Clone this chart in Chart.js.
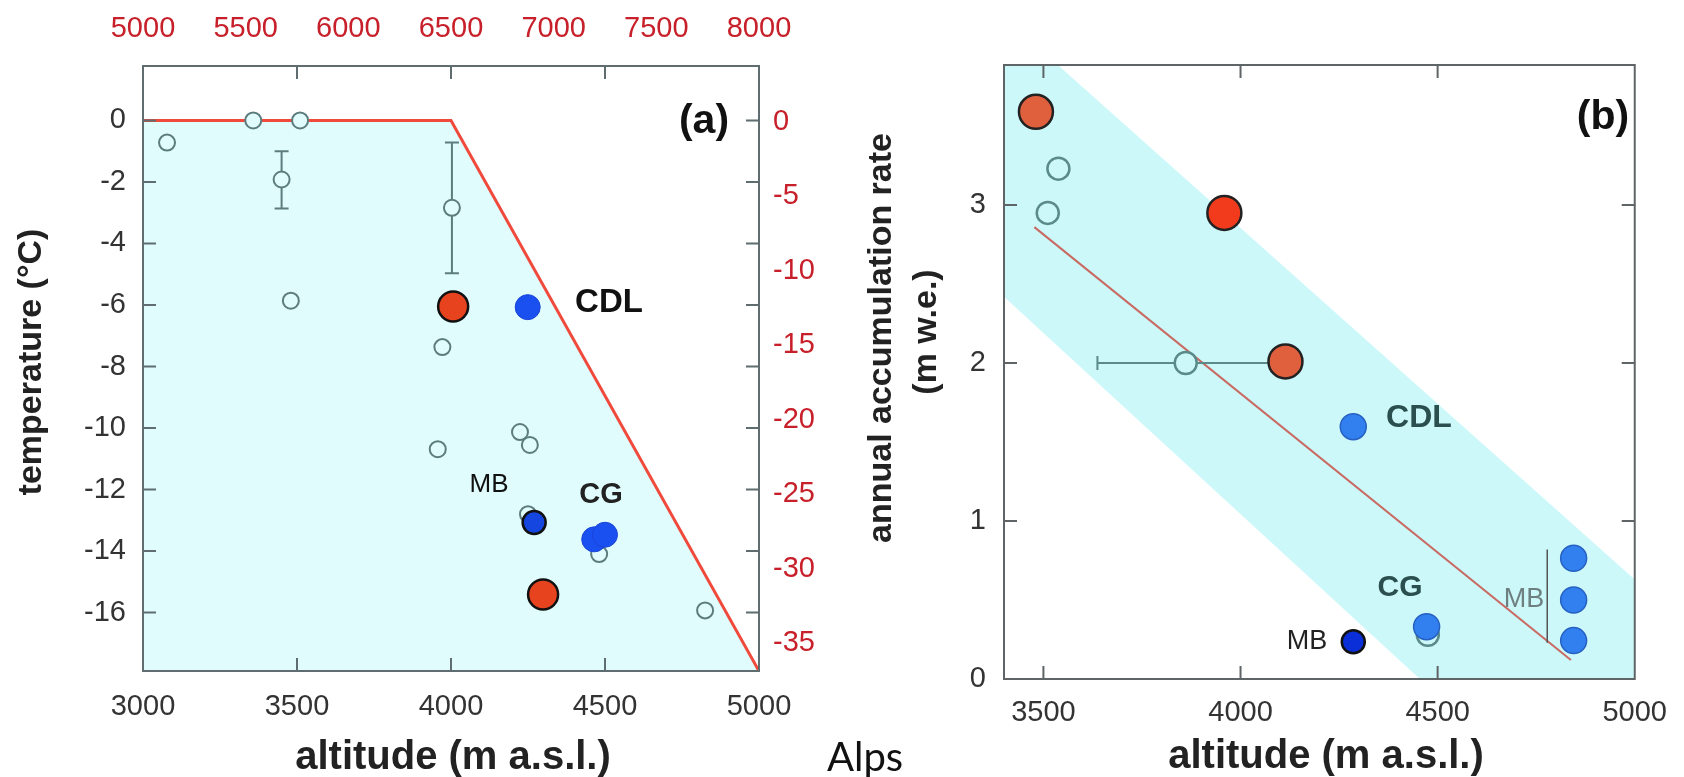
<!DOCTYPE html>
<html>
<head>
<meta charset="utf-8">
<script src="https://cdn.jsdelivr.net/npm/chart.js@4.4.0/dist/chart.umd.min.js"></script>
<style>
  body { margin: 0; background: #fff; width: 1684px; height: 777px; position: relative; overflow: hidden; }
  canvas { position: absolute; top: 0; }
  #chartA { left: 0; }
  #chartB { left: 850px; }
  #alps { position: absolute; left: 827px; top: 736px; font-family: Lato, 'Open Sans', sans-serif; font-size: 40px; line-height: 1; color: #111; }
</style>
</head>
<body>
<canvas id="chartA" width="850" height="777"></canvas>
<canvas id="chartB" width="834" height="777"></canvas>
<div id="alps">Alps</div>
<script>
// ---- panel (a): temperature vs altitude ----
const altTicksA = [3000, 3500, 4000, 4500, 5000];
const tempTicks = [-16, -14, -12, -10, -8, -6, -4, -2, 0];
const topAltTicks = [5000, 5500, 6000, 6500, 7000, 7500, 8000];
const rightTicks = [-35, -30, -25, -20, -15, -10, -5, 0];

const limitAlt = [3000, 4000, 5000];
const limitTemp = [0, 0, -17.9];

const openAltA = [3078, 3358, 3510, 3450, 3480, 4003, 3972, 4224, 4256, 3957, 4250, 4481, 4825];
const openTempA = [-0.72, 0, 0, -1.92, -5.86, -2.84, -7.37, -10.13, -10.55, -10.69, -12.8, -14.1, -15.93];
const errAltA = [3450, 4003];
const errLowA = [-2.86, -4.97];
const errHighA = [-1.0, -0.72];

const redAltA = [4007, 4299];
const redTempA = [-6.05, -15.41];
const blueAltA = [4249, 4465, 4500];
const blueTempA = [-6.07, -13.62, -13.47];
const mbAltA = [4270];
const mbTempA = [-13.07];

// ---- panel (b): accumulation vs altitude ----
const altTicksB = [3500, 4000, 4500, 5000];
const accTicks = [0, 1, 2, 3];

const bandAlt = [3400, 5000];
const bandHigh = [4.19, 0.63];
const bandLow = [2.42, -1.25];
const fitAlt = [3477, 4838];
const fitAcc = [2.86, 0.12];

const openAltB = [3538, 3511, 3861, 4475];
const openAccB = [3.23, 2.95, 2.0, 0.28];
const errAccB = [2.0];
const errLeftB = [3637];
const errRightB = [4085];

const redAltB = [3481, 4114];
const redAccB = [3.59, 2.01];
const brightAltB = [3959];
const brightAccB = [2.95];
const blueAltB = [4286, 4472, 4845, 4845, 4845];
const blueAccB = [1.597, 0.331, 0.764, 0.5, 0.243];
const mbAltB = [4286];
const mbAccB = [0.236];
const bracketAlt = [4778, 4778];
const bracketAcc = [0.82, 0.23];

const FONT = "'Liberation Sans', Arial, sans-serif";
const RED_TXT = '#c8202a';
Chart.defaults.font.family = FONT;

const pts = (xs, ys) => xs.map((x, i) => ({ x: x, y: ys[i] }));
const fixedTicks = list => scale => { scale.ticks = list.map(v => ({ value: v })); };
const plain = v => String(v);

// box + inward tick marks
const framePlugin = {
  id: 'frame',
  afterDatasetsDraw(chart, args, opts) {
    const { ctx, chartArea: a, scales } = chart;
    const x = scales.x, y = scales.y, len = 13;
    ctx.save();
    ctx.strokeStyle = opts.color;
    ctx.lineWidth = 2;
    ctx.strokeRect(a.left, a.top, a.right - a.left, a.bottom - a.top);
    ctx.beginPath();
    opts.xTicks.forEach(v => {
      const px = x.getPixelForValue(v);
      ctx.moveTo(px, a.bottom); ctx.lineTo(px, a.bottom - len);
      ctx.moveTo(px, a.top); ctx.lineTo(px, a.top + len);
    });
    opts.yTicks.forEach(v => {
      const py = y.getPixelForValue(v);
      ctx.moveTo(a.left, py); ctx.lineTo(a.left + len, py);
      ctx.moveTo(a.right, py); ctx.lineTo(a.right - len, py);
    });
    ctx.stroke();
    ctx.restore();
  }
};

// error bars, drawn just under the open circles
const errorBarPlugin = {
  id: 'errorBars',
  beforeDatasetDraw(chart, args, opts) {
    if (chart.data.datasets[args.index].label !== 'open') return;
    const { ctx, scales: { x, y } } = chart;
    const cap = 7;
    ctx.save();
    ctx.strokeStyle = opts.color;
    ctx.lineWidth = 2;
    ctx.beginPath();
    (opts.vertical || []).forEach(b => {
      const px = x.getPixelForValue(b.x), lo = y.getPixelForValue(b.lo), hi = y.getPixelForValue(b.hi);
      ctx.moveTo(px, lo); ctx.lineTo(px, hi);
      ctx.moveTo(px - cap, lo); ctx.lineTo(px + cap, lo);
      ctx.moveTo(px - cap, hi); ctx.lineTo(px + cap, hi);
    });
    (opts.horizontal || []).forEach(b => {
      const py = y.getPixelForValue(b.y), l = x.getPixelForValue(b.lo), r = x.getPixelForValue(b.hi);
      ctx.moveTo(l, py); ctx.lineTo(r, py);
      ctx.moveTo(l, py - cap); ctx.lineTo(l, py + cap);
    });
    ctx.stroke();
    ctx.restore();
  }
};

// titles and labels
const textPlugin = {
  id: 'freeText',
  afterDraw(chart, args, opts) {
    const ctx = chart.ctx;
    opts.items.forEach(t => {
      ctx.save();
      ctx.font = t.font;
      ctx.fillStyle = t.color || '#222';
      ctx.textAlign = 'center';
      ctx.textBaseline = 'middle';
      ctx.translate(t.x, t.y);
      if (t.rotate) ctx.rotate(t.rotate);
      ctx.fillText(t.text, 0, 0);
      ctx.restore();
    });
  }
};

function axis(extra) {
  return Object.assign({
    type: 'linear',
    grid: { display: false, drawTicks: false },
    border: { display: false },
  }, extra);
}
const tickFont = { size: 29, family: FONT };

// ---------- chart (a) ----------
const fillA = '#e0fcfd';
new Chart(document.getElementById('chartA'), {
  type: 'scatter',
  data: {
    datasets: [
      { label: 'red', data: pts(redAltA, redTempA), pointRadius: 15, pointBorderWidth: 2.5,
        pointBackgroundColor: '#e8431f', pointBorderColor: '#111', order: 1 },
      { label: 'mb', data: pts(mbAltA, mbTempA), pointRadius: 11.5, pointBorderWidth: 2.5,
        pointBackgroundColor: '#1546e0', pointBorderColor: '#111', order: 2 },
      { label: 'blue', data: pts(blueAltA, blueTempA), pointRadius: 12.5, pointBorderWidth: 1,
        pointBackgroundColor: '#1a4ff0', pointBorderColor: '#1a45d8', order: 2 },
      { label: 'open', data: pts(openAltA, openTempA), pointRadius: 8, pointBorderWidth: 2,
        pointBorderColor: '#5c7c7e', pointBackgroundColor: fillA, order: 3 },
      { type: 'line', label: 'limit', data: pts(limitAlt, limitTemp), borderColor: '#f04a3c', borderWidth: 3,
        pointRadius: 0, fill: 'start', backgroundColor: fillA, tension: 0, order: 10 }
    ]
  },
  options: {
    responsive: false,
    animation: false,
    devicePixelRatio: 1,
    layout: { padding: 0 },
    plugins: {
      legend: { display: false },
      tooltip: { enabled: false },
      frame: { color: '#5f6d70', xTicks: [3500, 4000, 4500], yTicks: tempTicks },
      errorBars: {
        color: '#5c7c7e',
        vertical: errAltA.map((x, i) => ({ x: x, lo: errLowA[i], hi: errHighA[i] }))
      },
      freeText: {
        items: [
          { text: 'temperature (°C)', x: 32, y: 362, rotate: -Math.PI / 2, font: 'bold 34px ' + FONT },
          { text: 'altitude (m a.s.l.)', x: 453, y: 758, font: 'bold 40px ' + FONT },
          { text: '(a)', x: 704, y: 122, font: 'bold 41px ' + FONT, color: '#111' },
          { text: 'CDL', x: 609, y: 303, font: 'bold 33px ' + FONT, color: '#111' },
          { text: 'MB', x: 489, y: 485, font: '26px ' + FONT, color: '#111' },
          { text: 'CG', x: 601, y: 495, font: 'bold 29px ' + FONT, color: '#222' }
        ]
      }
    },
    scales: {
      x: axis({ position: 'bottom', min: 3000, max: 5000, afterBuildTicks: fixedTicks(altTicksA),
        afterFit: s => { s.height = 106; },
        ticks: { padding: 19, color: '#333', font: tickFont, autoSkip: false, maxRotation: 0, callback: plain } }),
      x2: axis({ position: 'top', min: 5000, max: 8000, afterBuildTicks: fixedTicks(topAltTicks),
        afterFit: s => { s.height = 66; },
        ticks: { padding: 20, color: RED_TXT, font: tickFont, autoSkip: false, maxRotation: 0, callback: plain } }),
      y: axis({ position: 'left', min: -17.9, max: 1.77, afterBuildTicks: fixedTicks(tempTicks),
        afterFit: s => { s.width = 143; },
        ticks: { padding: 17, color: '#333', font: tickFont, autoSkip: false, callback: plain } }),
      y2: axis({ position: 'right', min: -36.88, max: 3.76, afterBuildTicks: fixedTicks(rightTicks),
        afterFit: s => { s.width = 91; },
        ticks: { padding: 14, color: RED_TXT, font: tickFont, autoSkip: false, callback: plain } })
    }
  },
  plugins: [framePlugin, errorBarPlugin, textPlugin]
});

// ---------- chart (b) ----------
const fillB = '#ccf8fa';
new Chart(document.getElementById('chartB'), {
  type: 'scatter',
  data: {
    datasets: [
      { label: 'red', data: pts(redAltB, redAccB), pointRadius: 17, pointBorderWidth: 2.5,
        pointBackgroundColor: '#e0603e', pointBorderColor: '#222', order: 1 },
      { label: 'red2', data: pts(brightAltB, brightAccB), pointRadius: 17, pointBorderWidth: 2.5,
        pointBackgroundColor: '#f23b1c', pointBorderColor: '#222', order: 1 },
      { label: 'mb', data: pts(mbAltB, mbAccB), pointRadius: 11.5, pointBorderWidth: 2.5,
        pointBackgroundColor: '#0a2fd8', pointBorderColor: '#111', order: 2 },
      { label: 'blue', data: pts(blueAltB, blueAccB), pointRadius: 13, pointBorderWidth: 1.5,
        pointBackgroundColor: '#3280f0', pointBorderColor: '#2660c0', order: 2 },
      { label: 'open', data: pts(openAltB, openAccB), pointRadius: 11, pointBorderWidth: 2.5,
        pointBorderColor: '#5a8a8a', pointBackgroundColor: fillB, order: 3 },
      { type: 'line', label: 'bracket', data: pts(bracketAlt, bracketAcc), borderColor: '#555', borderWidth: 1.5,
        pointRadius: 0, order: 4 },
      { type: 'line', label: 'fit', data: pts(fitAlt, fitAcc), borderColor: '#c96a62', borderWidth: 2,
        pointRadius: 0, order: 5 },
      { type: 'line', label: 'bandHigh', data: pts(bandAlt, bandHigh), borderWidth: 0, pointRadius: 0,
        fill: '+1', backgroundColor: fillB, order: 10 },
      { type: 'line', label: 'bandLow', data: pts(bandAlt, bandLow), borderWidth: 0, pointRadius: 0,
        fill: false, order: 11 }
    ]
  },
  options: {
    responsive: false,
    animation: false,
    devicePixelRatio: 1,
    layout: { padding: { top: 65, right: 38, left: 0, bottom: 0 } },
    plugins: {
      legend: { display: false },
      tooltip: { enabled: false },
      frame: { color: '#5f6566', xTicks: [3500, 4000, 4500], yTicks: [1, 2, 3] },
      errorBars: {
        color: '#5a8a8a',
        horizontal: errAccB.map((y, i) => ({ y: y, lo: errLeftB[i], hi: errRightB[i] }))
      },
      freeText: {
        items: [
          { text: 'annual accumulation rate', x: 32, y: 338, rotate: -Math.PI / 2, font: 'bold 34px ' + FONT },
          { text: '(m w.e.)', x: 77, y: 332, rotate: -Math.PI / 2, font: 'bold 34px ' + FONT },
          { text: 'altitude (m a.s.l.)', x: 476, y: 757, font: 'bold 40px ' + FONT },
          { text: '(b)', x: 753, y: 118, font: 'bold 41px ' + FONT, color: '#111' },
          { text: 'CDL', x: 569, y: 418, font: 'bold 32px ' + FONT, color: '#2b4f4f' },
          { text: 'CG', x: 550, y: 588, font: 'bold 30px ' + FONT, color: '#2b4f4f' },
          { text: 'MB', x: 457, y: 642, font: '27px ' + FONT, color: '#222' },
          { text: 'MB', x: 674, y: 600, font: '27px ' + FONT, color: '#6e7f80' }
        ]
      }
    },
    scales: {
      x: axis({ position: 'bottom', min: 3400, max: 5000, afterBuildTicks: fixedTicks(altTicksB),
        afterFit: s => { s.height = 98; },
        ticks: { padding: 17, color: '#333', font: tickFont, autoSkip: false, maxRotation: 0, callback: plain } }),
      y: axis({ position: 'left', min: 0, max: 3.886, afterBuildTicks: fixedTicks(accTicks),
        afterFit: s => { s.width = 154; },
        ticks: { padding: 18, color: '#333', font: tickFont, autoSkip: false, callback: plain } })
    }
  },
  plugins: [framePlugin, errorBarPlugin, textPlugin]
});
</script>
</body>
</html>
